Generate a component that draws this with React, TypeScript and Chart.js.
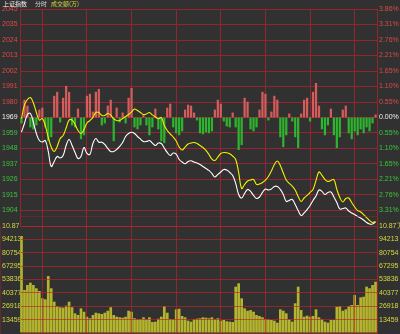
import React, { useEffect, useRef } from "react";
import { Chart, registerables } from "chart.js";

Chart.register(...registerables);

// ---- data ----
const PREV_CLOSE = 1969.4;
const PRICE_STEP = 10.86;
const VOL_STEP = 13459;

const priceTickLabels = ["2045", "2035", "2024", "2013", "2002", "1991", "1980", "1969", "1959", "1948", "1937", "1926", "1915", "1904", ""];
const pctTickLabels = ["3.86%", "3.31%", "2.76%", "2.21%", "1.65%", "1.10%", "0.55%", "0.00%", "0.55%", "1.10%", "1.65%", "2.21%", "2.76%", "3.31%", ""];
const volTickLabels = ["10.87万", "94213", "80754", "67295", "53836", "40377", "26918", "13459", ""];

const priceLine = [
  1959.2, 1965.2, 1971.5, 1972.2, 1965.9, 1958.2, 1953.3, 1952.2, 1953.3, 1945.6,
  1935.1, 1938.6, 1942.1, 1941.0, 1942.8, 1949.8, 1954.0, 1949.8, 1944.9, 1940.7,
  1942.1, 1948.4, 1944.2, 1943.5, 1951.2, 1954.7, 1952.1, 1952.1, 1950.5, 1947.7,
  1945.6, 1945.6, 1947.0, 1949.1, 1951.9, 1956.1, 1958.2, 1959.1, 1958.2, 1956.1,
  1954.3, 1952.6, 1952.6, 1953.3, 1951.5, 1949.8, 1951.5, 1951.2, 1948.0, 1944.9,
  1942.8, 1944.5, 1943.8, 1940.0, 1938.2, 1937.0, 1938.6, 1939.1, 1938.2, 1937.5,
  1936.5, 1935.1, 1933.7, 1932.3, 1930.2, 1927.7, 1929.5, 1931.2, 1933.0, 1932.6,
  1930.9, 1928.8, 1923.2, 1915.5, 1913.0, 1916.2, 1919.0, 1917.6, 1914.8, 1912.7,
  1913.7, 1916.9, 1919.3, 1918.6, 1919.3, 1921.1, 1921.1, 1919.0, 1915.5, 1910.6,
  1911.3, 1912.0, 1908.4, 1904.2, 1900.7, 1902.5, 1904.9, 1907.7, 1911.3, 1914.4,
  1918.6, 1917.6, 1915.5, 1916.9, 1917.2, 1913.7, 1909.8, 1905.3, 1905.6, 1906.0,
  1903.9, 1902.5, 1901.4, 1900.0, 1899.0, 1897.6, 1895.8, 1894.8, 1894.8, 1896.2,
];

const avgLine = [
  1968.7, 1978.2, 1982.0, 1983.4, 1979.6, 1972.9, 1967.6, 1968.7, 1963.8, 1955.4,
  1948.7, 1945.6, 1949.1, 1954.7, 1956.8, 1962.0, 1967.6, 1967.6, 1964.5, 1960.3,
  1958.2, 1961.0, 1965.5, 1967.3, 1969.5, 1972.9, 1972.9, 1970.8, 1970.8, 1972.2,
  1971.2, 1968.4, 1967.3, 1967.3, 1968.7, 1970.1, 1971.5, 1973.3, 1975.3, 1974.3,
  1972.9, 1971.5, 1971.9, 1972.9, 1971.2, 1969.8, 1968.5, 1969.4, 1963.8, 1960.3,
  1957.8, 1955.7, 1952.9, 1948.7, 1946.6, 1948.7, 1950.8, 1951.5, 1951.9, 1951.2,
  1949.8, 1948.4, 1946.3, 1943.5, 1940.3, 1939.3, 1941.7, 1944.2, 1944.9, 1944.7,
  1944.0, 1942.4, 1940.0, 1930.9, 1919.7, 1922.5, 1924.9, 1925.6, 1926.0, 1922.5,
  1922.8, 1923.9, 1925.6, 1928.1, 1931.9, 1936.5, 1938.9, 1935.8, 1930.5, 1925.6,
  1923.2, 1921.4, 1918.6, 1914.1, 1910.6, 1913.0, 1914.8, 1916.9, 1919.0, 1925.3,
  1931.2, 1928.8, 1926.0, 1924.6, 1925.3, 1926.0, 1919.0, 1913.4, 1910.2, 1912.7,
  1913.0, 1909.8, 1906.7, 1904.2, 1903.2, 1901.4, 1899.3, 1897.2, 1895.8, 1896.5,
];

const breadth = [
  -6, 18, 12, -10, -12, -8, 8, 10, -10, -24,
  -20, 22, 26, -5, 20, 32, 26, -8, -10, 9,
  -22, -18, 22, 24, 6, 26, 29, -8, -6, 12,
  18, -24, 10, -5, 5, -6, 20, 30, -10, -12,
  -8, 3, -8, -18, -10, 9, -12, -24, -26, 10,
  14, -10, -16, -18, -14, 8, 13, 12, 5, -3,
  -16, -17, -15, -16, -14, 8, 18, 14, -4, -9,
  -10, 5, -10, -33, -28, 20, 16, -12, -14, -10,
  8, 26, 24, -3, 6, 22, 18, -20, -30, -18,
  4, -4, -20, -31, 4, 18, 20, -4, 26, 35,
  12, -12, -18, -8, 9, -18, -31, -20, 8, 12,
  -16, -22, -14, -18, -12, -16, -10, -14, -6, 3,
];

const volume = [
  97600, 43300, 48300, 50600, 48300, 45000, 42300, 34900, 33900, 57300,
  45000, 31500, 27200, 25900, 25500, 27500, 31500, 25900, 19800, 18100,
  24800, 21400, 16400, 14800, 18100, 20400, 19800, 19100, 20400, 22400,
  25900, 18100, 16400, 15800, 15400, 16400, 22400, 21400, 14800, 13800,
  14100, 15800, 13800, 15800, 11100, 11400, 14400, 16400, 27200, 20400,
  14100, 13800, 23800, 24400, 17100, 15800, 12400, 11400, 13800, 14400,
  14800, 15800, 15400, 14800, 15800, 13800, 14800, 12400, 13100, 11800,
  11400, 11100, 46600, 50000, 34900, 24800, 22400, 23100, 21400, 18100,
  17100, 15800, 14100, 13800, 13100, 12400, 10400, 23800, 22400, 19800,
  13800, 11400, 29900, 46600, 23100, 16400, 17400, 16400, 17100, 23800,
  15800, 13800, 11400, 10400, 13100, 13100, 26500, 27200, 22400, 23800,
  27200, 28200, 38200, 28200, 35900, 36500, 46600, 45000, 48300, 51600,
];

// ---- styles ----
const BG = "#313131";
const GRID = "#922530";
const GRID_OVER = "rgba(190,35,40,0.65)";
const RED_TXT = "#e04848";
const GREEN_TXT = "#3cc43c";
const WHITE_TXT = "#f0f0f0";
const YELLOW_TXT = "#d8d840";
const FONT = { family: "Liberation Sans, Arial, sans-serif", size: 7 };
const N = priceLine.length;
const X_TICKS = [-0.5, 14.5, 29.5, 44.5, 59.5, 74.5, 89.5, 104.5, 119.5];

function fixAxis(width: number) {
  return (scale: any) => {
    scale.width = width;
    scale.paddingTop = 0;
    scale.paddingBottom = 0;
  };
}

const pts = (arr: number[]) => arr.map((v, i) => ({ x: i, y: v }));

export default function App() {
  const priceRef = useRef<HTMLCanvasElement>(null);
  const volRef = useRef<HTMLCanvasElement>(null);

  useEffect(() => {
    const priceTicksAsc = priceTickLabels.map((_, k) => PREV_CLOSE + (k - 7) * PRICE_STEP);
    const priceLabelsAsc = [...priceTickLabels].reverse();
    const pctLabelsAsc = [...pctTickLabels].reverse();
    const sideColor = (ctx: any) => {
      const k = ctx.index - 7;
      return k > 0 ? RED_TXT : k === 0 ? WHITE_TXT : GREEN_TXT;
    };
    const xAxis = (z: number, gridColor: string) => ({
      type: "linear" as const,
      min: -0.5,
      max: N - 0.5,
      offset: false,
      afterBuildTicks: (s: any) => {
        s.ticks = X_TICKS.map((v) => ({ value: v }));
      },
      ticks: { display: false },
      grid: { color: gridColor, drawTicks: false, z },
      border: { color: GRID },
    });

    const priceChart = new Chart(priceRef.current!, {
      type: "bar",
      data: {
        datasets: [
          {
            type: "line",
            data: pts(avgLine),
            borderColor: "#f2f200",
            borderWidth: 1.1,
            pointRadius: 0,
            tension: 0.4,
            yAxisID: "y",
            order: 0,
          } as any,
          {
            type: "line",
            data: pts(priceLine),
            borderColor: "#ffffff",
            borderWidth: 1.1,
            pointRadius: 0,
            tension: 0.4,
            yAxisID: "y",
            order: 1,
          } as any,
          {
            type: "bar",
            data: pts(breadth),
            backgroundColor: breadth.map((v) => (v >= 0 ? "#d65c5c" : "#2fb42f")),
            barPercentage: 0.75,
            categoryPercentage: 1,
            yAxisID: "yb",
            order: 2,
          } as any,
        ],
      },
      options: {
        animation: false,
        responsive: false,
        maintainAspectRatio: false,
        layout: { padding: { top: 9, bottom: 8, left: 2, right: 0 } },
        plugins: { legend: { display: false }, tooltip: { enabled: false } },
        scales: {
          x: xAxis(0, GRID) as any,
          y: {
            position: "left",
            min: priceTicksAsc[0],
            max: priceTicksAsc[priceTicksAsc.length - 1],
            afterBuildTicks: (s: any) => {
              s.ticks = priceTicksAsc.map((v) => ({ value: v }));
            },
            afterFit: fixAxis(18),
            ticks: {
              autoSkip: false,
              crossAlign: "far",
              padding: 0,
              font: FONT,
              color: sideColor,
              callback: (_v: any, i: number) => priceLabelsAsc[i],
            },
            grid: { color: GRID, drawTicks: false },
            border: { color: GRID },
          },
          yR: {
            position: "right",
            min: priceTicksAsc[0],
            max: priceTicksAsc[priceTicksAsc.length - 1],
            afterBuildTicks: (s: any) => {
              s.ticks = priceTicksAsc.map((v) => ({ value: v }));
            },
            afterFit: fixAxis(23),
            ticks: {
              autoSkip: false,
              padding: 2,
              font: FONT,
              color: sideColor,
              callback: (_v: any, i: number) => pctLabelsAsc[i],
            },
            grid: { drawOnChartArea: false, drawTicks: false },
            border: { color: GRID },
          },
          yb: { display: false, min: -110, max: 110 },
        },
      } as any,
    });

    const volTicksAsc = volTickLabels.map((_, k) => k * VOL_STEP);
    const volLabelsAsc = [...volTickLabels].reverse();
    const volAxis = (pos: "left" | "right", w: number, extra: any) => ({
      position: pos,
      min: 0,
      max: volTicksAsc[volTicksAsc.length - 1],
      afterBuildTicks: (s: any) => {
        s.ticks = volTicksAsc.map((v) => ({ value: v }));
      },
      afterFit: fixAxis(w),
      ticks: {
        autoSkip: false,
        font: FONT,
        color: YELLOW_TXT,
        callback: (_v: any, i: number) => volLabelsAsc[i],
        ...extra,
      },
      border: { color: GRID },
    });

    const volChart = new Chart(volRef.current!, {
      type: "bar",
      data: {
        datasets: [
          {
            data: pts(volume),
            backgroundColor: "#b4b42e",
            barPercentage: 0.9,
            categoryPercentage: 1,
            yAxisID: "v",
          } as any,
        ],
      },
      options: {
        animation: false,
        responsive: false,
        maintainAspectRatio: false,
        layout: { padding: { top: 10, bottom: 1, left: 2, right: 0 } },
        plugins: { legend: { display: false }, tooltip: { enabled: false } },
        scales: {
          x: xAxis(1, GRID_OVER) as any,
          v: {
            ...volAxis("left", 18, { crossAlign: "far", padding: 0 }),
            grid: { color: GRID_OVER, drawTicks: false, z: 1 },
          },
          vR: {
            ...volAxis("right", 23, { padding: 2 }),
            grid: { drawOnChartArea: false, drawTicks: false },
          },
        },
      } as any,
    });

    return () => {
      priceChart.destroy();
      volChart.destroy();
    };
  }, []);

  return (
    <div
      style={{
        position: "fixed",
        left: 0,
        top: 0,
        width: 400,
        height: 334,
        background: BG,
        overflow: "hidden",
      }}
    >
      <canvas
        ref={priceRef}
        width={400}
        height={234}
        style={{ position: "absolute", left: 0, top: 0, width: 400, height: 234 }}
      />
      <canvas
        ref={volRef}
        width={400}
        height={118}
        style={{ position: "absolute", left: 0, top: 216, width: 400, height: 118 }}
      />
      <div
        style={{
          position: "absolute",
          left: 3,
          top: 0,
          fontFamily: '"Noto Sans CJK SC", sans-serif',
          fontSize: 6,
          lineHeight: "8px",
          whiteSpace: "nowrap",
        }}
      >
        <span style={{ color: "#f0f0f0" }}>上证指数</span>
        <span style={{ color: "#d8d8d8", marginLeft: 8 }}>分时</span>
        <span style={{ color: YELLOW_TXT, marginLeft: 4 }}>成交额(万)</span>
      </div>
    </div>
  );
}
